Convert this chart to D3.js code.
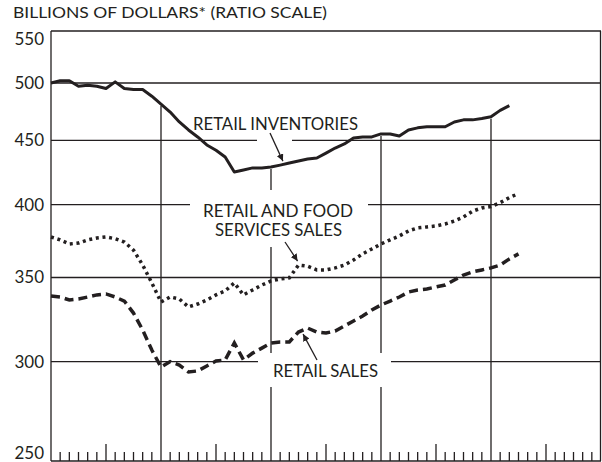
<!DOCTYPE html>
<html>
<head>
<meta charset="utf-8">
<script src="https://cdn.jsdelivr.net/npm/d3@7"></script>
<style>
  body { margin: 0; background: #fff; }
  text { font-family: Lato, "Noto Sans", sans-serif; fill: #231f20; }
</style>
</head>
<body>
<div id="chart"></div>
<script>
// monthly values, billions of dollars, 5 years on the x axis (month 0 = January of the first year)
const inventories = [500, 502, 502, 497, 498, 497, 495, 501, 495, 494, 494, 488,
    481, 474, 465.5, 458.7, 452.9, 446.3, 442, 436.6, 424.7, 426.3, 427.9, 427.9,
    428.6, 430.1, 431.7, 433.3, 434.9, 435.7, 439.7, 443.8, 447.1, 452, 452.9, 452.9,
    455.4, 455.4, 453.7, 458.7, 460.5, 461.4, 461.4, 461.4, 465.5, 467.3, 467.3, 468.5,
    470, 475.5, 479.6];
const foodServicesSales = [377, 375, 372.2, 372.8, 375, 376.3, 377, 375.8, 373.5, 368, 358.1, 346.5,
    334.6, 337.7, 336.5, 331.6, 333.4, 335.9, 339, 341.5, 346.5, 339, 342.1, 345.2,
    347.8, 349.1, 349.8, 358.1, 357.3, 354.9, 354.9, 356.2, 358.1, 361.4, 365.5, 368.8,
    372.2, 375, 377.7, 381.2, 383.3, 384, 384.7, 386.1, 388.2, 391.1, 395.3, 397.6,
    398.6, 401.5, 405.2, 408.2];
const retailSales = [338.3, 337.7, 335.9, 336.5, 337.7, 339, 339.6, 337.7, 335.2, 327.9, 317.9, 306.4,
    297, 300, 298.1, 294.3, 294.9, 297.6, 300.3, 300.9, 310.4, 300.9, 304.7, 307.5,
    310.4, 311, 311, 316.7, 319, 316.7, 316.1, 317.3, 320.2, 323.2, 326.1, 329.8,
    332.8, 335.2, 337.7, 340.8, 342.1, 342.7, 344, 345.2, 348.4, 351.6, 353.6, 354.9,
    356.2, 358.1, 362.1, 365.5];
const yTicks = [250, 300, 350, 400, 450, 500, 550];
const months = 60;

const W = 602, H = 462;
const plot = {left: 51, right: 601, top: 31, bottom: 461};
const ink = "#231f20";

const svg = d3.select("#chart").append("svg")
    .attr("width", W)
    .attr("height", H);

const x = d3.scaleLinear().domain([0, months]).range([plot.left, plot.right]);
const y = d3.scaleLog().domain([250, 550]).range([plot.bottom, plot.top]);

svg.append("defs").append("marker")
    .attr("id", "arrow")
    .attr("viewBox", "0 0 10 10")
    .attr("refX", 10).attr("refY", 5)
    .attr("markerWidth", 7).attr("markerHeight", 7)
    .attr("markerUnits", "userSpaceOnUse")
    .attr("orient", "auto")
    .append("path")
    .attr("d", "M0,0 L10,5 L0,10 z")
    .attr("fill", ink);

const grid = svg.append("g").attr("stroke", ink).attr("stroke-width", 1.3);

// horizontal rules
grid.selectAll(".hline")
    .data(yTicks.filter(d => d > 250))
    .enter().append("line")
    .attr("x1", plot.left).attr("x2", plot.right)
    .attr("y1", d => y(d)).attr("y2", d => y(d));

// yearly rules start under the inventories line
grid.selectAll(".vline")
    .data([12, 24, 36, 48])
    .enter().append("line")
    .attr("x1", d => x(d)).attr("x2", d => x(d))
    .attr("y1", d => y(inventories[d]) + 2)
    .attr("y2", plot.bottom);

// frame
grid.append("line").attr("x1", plot.left).attr("x2", plot.left).attr("y1", plot.top).attr("y2", plot.bottom);
grid.append("line").attr("x1", plot.right - 0.5).attr("x2", plot.right - 0.5).attr("y1", plot.top).attr("y2", plot.bottom);
grid.append("line").attr("x1", plot.left).attr("x2", plot.right).attr("y1", plot.bottom).attr("y2", plot.bottom);

// month ticks, taller at mid year
grid.selectAll(".tick")
    .data(d3.range(1, months).filter(m => m % 12 !== 0))
    .enter().append("line")
    .attr("x1", d => x(d)).attr("x2", d => x(d))
    .attr("y1", plot.bottom)
    .attr("y2", d => plot.bottom - (d % 12 === 6 ? 17 : 9));

// white knockouts where the rules break for the labels
const knockouts = [
    {x0: 257, x1: 292, y0: 134, y1: 146},
    {x0: 190, x1: 368, y0: 190, y1: 247},
    {x0: 258, x1: 391, y0: 353, y1: 387}
];
svg.selectAll(".knock")
    .data(knockouts)
    .enter().append("rect")
    .attr("x", d => d.x0).attr("y", d => d.y0)
    .attr("width", d => d.x1 - d.x0).attr("height", d => d.y1 - d.y0)
    .attr("fill", "#fff");

// y labels
svg.selectAll(".ylab")
    .data(yTicks)
    .enter().append("text")
    .attr("x", 44)
    .attr("y", d => d === 550 ? y(d) + 14 : (d === 250 ? y(d) - 2 : y(d) + 6))
    .attr("text-anchor", "end")
    .attr("font-size", 17)
    .text(d => d);

svg.append("text")
    .attr("x", 13).attr("y", 18)
    .attr("font-size", 15.5)
    .attr("textLength", 314)
    .attr("lengthAdjust", "spacingAndGlyphs")
    .text("BILLIONS OF DOLLARS* (RATIO SCALE)");

// series
const line = d3.line()
    .x((d, i) => x(i))
    .y(d => y(d));

svg.append("path")
    .datum(inventories)
    .attr("d", line)
    .attr("fill", "none")
    .attr("stroke", ink)
    .attr("stroke-width", 3)
    .attr("stroke-linejoin", "round");

svg.append("path")
    .datum(foodServicesSales)
    .attr("d", line)
    .attr("fill", "none")
    .attr("stroke", ink)
    .attr("stroke-width", 3.5)
    .attr("stroke-dasharray", "3,3.7");

svg.append("path")
    .datum(retailSales)
    .attr("d", line)
    .attr("fill", "none")
    .attr("stroke", ink)
    .attr("stroke-width", 3.5)
    .attr("stroke-dasharray", "9,5");

// annotations
const labels = [
    {text: "RETAIL INVENTORIES", x: 193, y: 129.5, len: 165},
    {text: "RETAIL AND FOOD", x: 203, y: 217, len: 150},
    {text: "SERVICES SALES", x: 215, y: 236, len: 127},
    {text: "RETAIL SALES", x: 273, y: 376.5, len: 105}
];
svg.selectAll(".lab")
    .data(labels)
    .enter().append("text")
    .attr("x", d => d.x).attr("y", d => d.y)
    .attr("font-size", 17.5)
    .attr("textLength", d => d.len)
    .attr("lengthAdjust", "spacingAndGlyphs")
    .text(d => d.text);

const arrows = [
    {from: [270, 133], month: 25.3, series: inventories, dy: -4},
    {from: [285, 242], month: 26.9, series: foodServicesSales, dy: -4},
    {from: [317, 360], month: 27.5, series: retailSales, dy: 6}
];
svg.selectAll(".arrow")
    .data(arrows)
    .enter().append("line")
    .attr("x1", d => d.from[0]).attr("y1", d => d.from[1])
    .attr("x2", d => x(d.month))
    .attr("y2", d => y(d.series[Math.round(d.month)]) + d.dy)
    .attr("stroke", ink)
    .attr("stroke-width", 1.3)
    .attr("marker-end", "url(#arrow)");
</script>
</body>
</html>
